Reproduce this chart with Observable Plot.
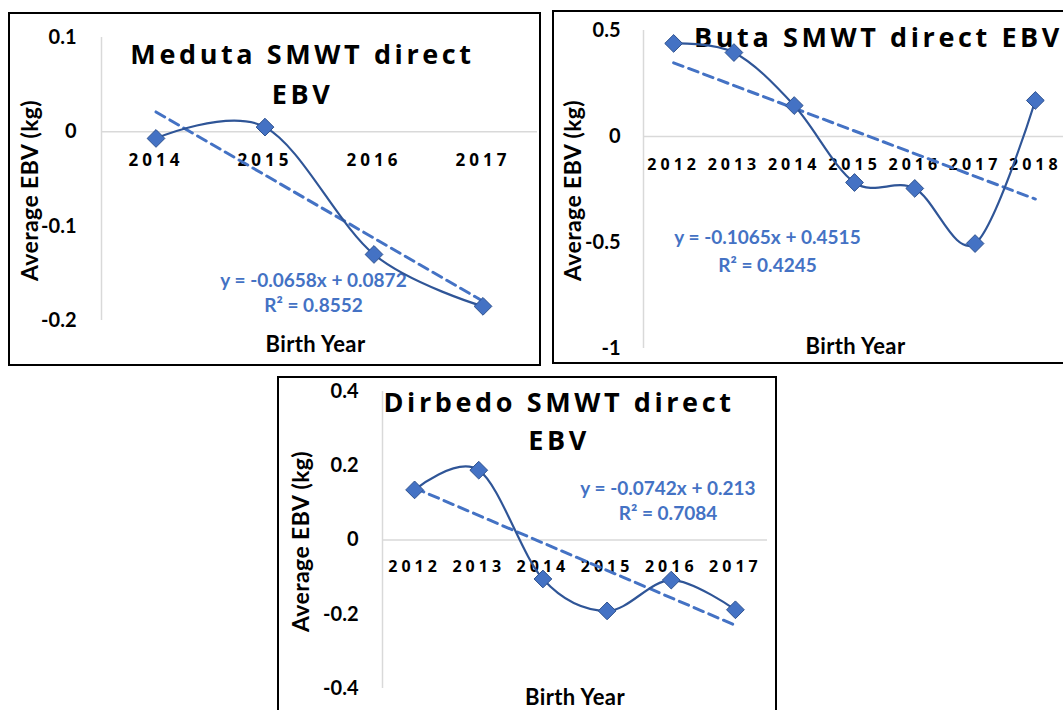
<!DOCTYPE html>
<html>
<head>
<meta charset="utf-8">
<script src="https://cdn.jsdelivr.net/npm/d3@7"></script>
<script src="https://cdn.jsdelivr.net/npm/@observablehq/plot@0.6"></script>
<style>
  html, body { margin: 0; padding: 0; background: #fff; }
  body { width: 1063px; height: 710px; overflow: hidden; position: relative; font-family: Lato, "Open Sans", sans-serif; }
  .panel { position: absolute; box-sizing: border-box; border: 2px solid #000; background: #fff; }
  .panel svg { overflow: visible; display: block; }
</style>
</head>
<body>
<div id="buta" class="panel"></div>
<div id="meduta" class="panel"></div>
<div id="dirbedo" class="panel"></div>
<script>
// ---------- data ----------
const medutaYears = [2014, 2015, 2016, 2017];
const medutaEBV = [-0.007, 0.005, -0.130, -0.185];
const medutaYTicks = [0.1, 0, -0.1, -0.2];
const medutaTitle = ["Meduta SMWT direct", "EBV"];
const medutaEquation = ["y = -0.0658x + 0.0872", "R² = 0.8552"];

const butaYears = [2012, 2013, 2014, 2015, 2016, 2017, 2018];
const butaEBV = [0.439, 0.396, 0.146, -0.217, -0.245, -0.505, 0.170];
const butaYTicks = [0.5, 0, -0.5, -1];
const butaTitle = ["Buta SMWT direct EBV"];
const butaEquation = ["y = -0.1065x + 0.4515", "R² = 0.4245"];

const dirbedoYears = [2012, 2013, 2014, 2015, 2016, 2017];
const dirbedoEBV = [0.135, 0.188, -0.105, -0.191, -0.108, -0.188];
const dirbedoYTicks = [0.4, 0.2, 0, -0.2, -0.4];
const dirbedoTitle = ["Dirbedo SMWT direct", "EBV"];
const dirbedoEquation = ["y = -0.0742x + 0.213", "R² = 0.7084"];

const yAxisTitle = "Average EBV (kg)";
const xAxisTitle = "Birth Year";

// ---------- styles ----------
const LINE = "#2F5597", MARK = "#4472C4", MARK_STROKE = "#2F528F", GRID = "#d9d9d9", EQ = "#4472C4";
const fmt = d => String(+d.toFixed(2));

function restyle(chart, strings, style) {
  d3.select(chart).selectAll("text").each(function () {
    if (strings.includes(this.textContent)) {
      for (const [k, v] of Object.entries(style)) this.style.setProperty(k, v);
    }
  });
}

function panel(id, years, values, yTicks, title, equation, g) {
  const el = document.getElementById(id);
  Object.assign(el.style, {left: g.left + "px", top: g.top + "px", width: g.w + "px", height: g.h + "px"});
  const n = years.length;
  const rows = years.map((yr, i) => ({idx: i + 1, year: yr, v: values[i]}));
  const common = {lineAnchor: "middle", fontWeight: "bold"};
  const chart = Plot.plot({
    width: g.w - 4, height: g.h - 4,
    marginLeft: g.ml, marginRight: g.mr, marginTop: g.mt, marginBottom: g.mb,
    x: {type: "linear", domain: [0.5, n + 0.5], axis: null},
    y: {domain: [yTicks[yTicks.length - 1], yTicks[0]], axis: null},
    style: {background: "transparent", overflow: "visible"},
    marks: [
      Plot.ruleY([0], {stroke: GRID, strokeWidth: 1.5}),
      Plot.ruleX([0.5], {stroke: GRID, strokeWidth: 1.5}),
      Plot.text(yTicks, {...common, y: d => d, text: fmt, frameAnchor: "left", textAnchor: "end", dx: g.ytickDx,
        fontSize: 20, fill: "#000"}),
      Plot.text(rows, {...common, x: "idx", y: () => 0, text: d => String(d.year), dy: g.xtickDy,
        fontSize: g.xtickSize, fill: "#000"}),
      ...title.map((t, i) => Plot.text([t], {...common, text: d => d, frameAnchor: "top", dx: g.titleDx, dy: g.titleDy[i],
        fontSize: 27, fill: "#000"})),
      Plot.text([yAxisTitle], {...common, text: d => d, frameAnchor: "left", textAnchor: "middle", rotate: -90,
        dx: g.ylabDx, dy: g.ylabDy, fontSize: 23, fill: "#000"}),
      Plot.text([xAxisTitle], {...common, text: d => d, frameAnchor: "bottom", dx: g.xlabDx, dy: g.xlabDy,
        fontSize: 22, fill: "#000"}),
      ...equation.map((e, i) => Plot.text([e], {...common, text: d => d, frameAnchor: g.eqAnchor, dx: g.eqDx, dy: g.eqDy[i],
        fontSize: 19, fill: EQ})),
      Plot.linearRegressionY(rows, {x: "idx", y: "v", ci: 0, stroke: MARK, strokeWidth: 3, strokeDasharray: "10,6"}),
      Plot.line(rows, {x: "idx", y: "v", curve: "cardinal", tension: 0, stroke: LINE, strokeWidth: 2.2}),
      Plot.dot(rows, {x: "idx", y: "v", symbol: "diamond2", r: 8, fill: MARK, stroke: MARK_STROKE, strokeWidth: 1})
    ]
  });
  restyle(chart, title, {"font-family": "'Open Sans', sans-serif", "letter-spacing": "3.6px"});
  restyle(chart, years.map(String), {"font-family": "'Open Sans', sans-serif", "letter-spacing": g.xtickSpacing});
  restyle(chart, [xAxisTitle, yAxisTitle], {"font-family": "Lato, sans-serif", "letter-spacing": "0.4px"});
  restyle(chart, equation, {"font-family": "Lato, sans-serif"});
  restyle(chart, yTicks.map(fmt), {"font-family": "Lato, sans-serif"});
  el.appendChild(chart);
}

panel("meduta", medutaYears, medutaEBV, medutaYTicks, medutaTitle, medutaEquation, {
  left: 8, top: 12, w: 533, h: 354, ml: 91, mr: 2, mt: 23, mb: 44,
  ytickDx: -25, xtickDy: 29, xtickSize: 17, xtickSpacing: "4px",
  titleDx: -17, titleDy: [18, 58], ylabDx: -71, ylabDy: 11.5, xlabDx: -4, xlabDy: 24,
  eqAnchor: "bottom", eqDx: -6, eqDy: [-40, -15]
});
panel("buta", butaYears, butaEBV, butaYTicks, butaTitle, butaEquation, {
  left: 552, top: 10, w: 520, h: 354, ml: 89, mr: 5, mt: 18, mb: 14,
  ytickDx: -23, xtickDy: 28, xtickSize: 16, xtickSpacing: "4px",
  titleDx: 24, titleDy: [8], ylabDx: -70, ylabDy: 1, xlabDx: 1, xlabDy: -2,
  eqAnchor: "bottom", eqDx: -87, eqDy: [-110.5, -83]
});
panel("dirbedo", dirbedoYears, dirbedoEBV, dirbedoYTicks, dirbedoTitle, dirbedoEquation, {
  left: 277, top: 376, w: 500, h: 340, ml: 103, mr: 8, mt: 13, mb: 26,
  ytickDx: -24, xtickDy: 27, xtickSize: 16, xtickSpacing: "4px",
  titleDx: -16, titleDy: [12, 50], ylabDx: -80.5, ylabDy: 1.5, xlabDx: 0, xlabDy: 9,
  eqAnchor: "top", eqDx: 93, eqDy: [97, 122]
});
</script>
</body>
</html>
